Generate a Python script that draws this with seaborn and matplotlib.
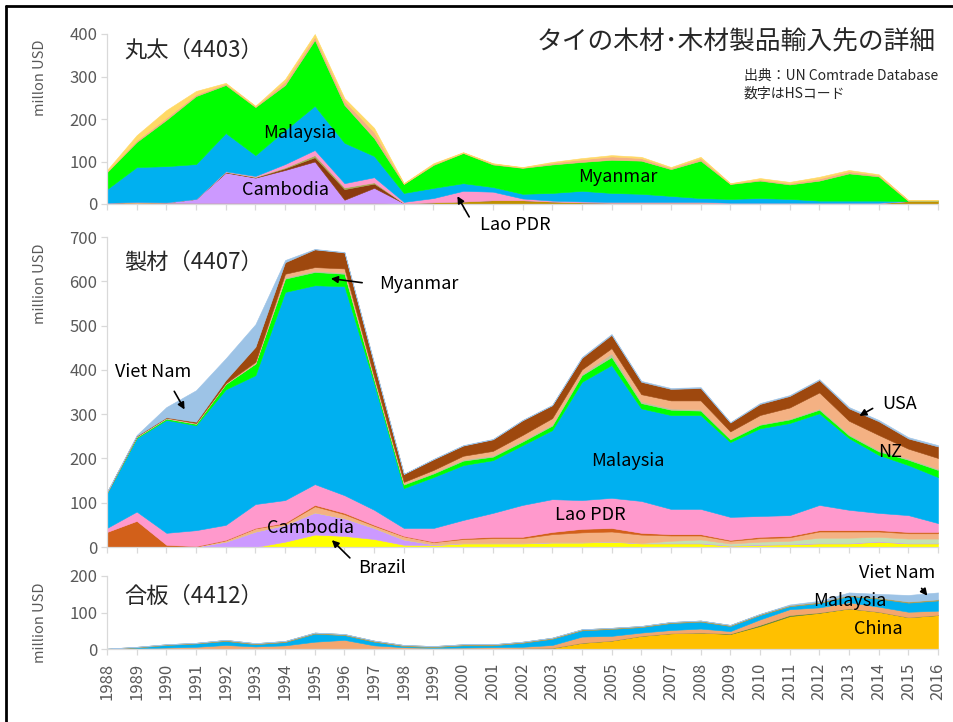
import matplotlib
matplotlib.use('Agg')
import matplotlib.pyplot as plt
import seaborn as sns
import numpy as np
import pandas as pd
from matplotlib.lines import Line2D

sns.set_theme(style='white')
plt.rcParams['font.family'] = ['Noto Sans CJK JP', 'DejaVu Sans']

years = list(range(1988, 2017))

# ---- 丸太 (4403), million USD, stacked bottom -> top
r_other = [3, 4, 3, 2, 2, 2, 2, 2, 2, 2, 1, 1, 1, 1, 1, 1, 1, 1, 1, 1, 1, 1, 1, 1, 1, 1, 1, 0, 0]
r_gold = [0, 0, 0, 0, 0, 0, 0, 0, 0, 0, 0, 3, 5, 8, 8, 5, 3, 2, 2, 2, 2, 1, 1, 1, 1, 1, 1, 7, 7]
r_cambodia = [0, 1, 1, 10, 72, 60, 78, 98, 8, 36, 1] + [0] * 18
r_brown = [0, 0, 0, 0, 1, 1, 4, 10, 25, 10] + [0] * 19
r_olive = [0, 0, 0, 0, 1, 1, 2, 5, 4, 3] + [0] * 19
r_lao = [0, 0, 0, 0, 1, 2, 8, 12, 10, 12, 3, 10, 25, 20, 4, 2, 2, 2, 2, 2, 2, 1, 1, 1, 1, 1, 1, 0, 0]
r_malaysia = [32, 82, 85, 82, 90, 49, 80, 104, 95, 50, 21, 24, 18, 11, 11, 18, 25, 21, 19, 14, 9, 9, 11, 9, 5, 5, 5, 0, 0]
r_myanmar = [40, 59, 109, 160, 113, 113, 106, 155, 89, 42, 21, 54, 71, 53, 61, 67, 68, 78, 78, 63, 88, 35, 41, 34, 47, 64, 57, 0, 0]
r_tan = [2, 4, 5, 4, 3, 2, 8, 8, 10, 14, 1, 2, 1, 2, 1, 4, 6, 8, 6, 3, 6, 1, 3, 3, 5, 5, 3, 2, 2]
r_yellow = [3, 12, 18, 8, 2, 1, 6, 6, 6, 10, 1, 2, 1, 1, 1, 2, 3, 3, 3, 2, 3, 1, 3, 3, 4, 3, 2, 0, 0]

# ---- 製材 (4407)
s_brazil = [0, 0, 0, 0, 0, 0, 12, 28, 25, 18, 5, 4, 8, 8, 8, 10, 10, 12, 8, 8, 8, 3, 5, 6, 8, 8, 12, 8, 8]
s_cambodia = [0, 0, 0, 1, 12, 35, 38, 50, 40, 25, 12, 2, 1, 1, 1, 1, 1, 1, 1, 1, 1, 1, 1, 1, 1, 1, 1, 1, 1]
s_lgreen = [0] * 19 + [5, 8, 4, 6, 7, 12, 12, 10, 10, 10]
s_lorange = [0, 0, 1, 0, 3, 7, 3, 14, 9, 5, 7, 5, 9, 11, 11, 18, 22, 22, 19, 12, 9, 6, 8, 8, 14, 14, 12, 12, 12]
s_orange = [34, 59, 4, 1, 1, 1, 2, 3, 3, 2, 1, 1, 2, 3, 3, 5, 8, 8, 4, 3, 3, 2, 3, 3, 3, 3, 3, 3, 3]
s_lao = [9, 21, 27, 36, 34, 54, 51, 47, 40, 34, 18, 31, 41, 54, 72, 74, 65, 68, 72, 57, 57, 52, 47, 47, 57, 46, 39, 38, 20]
s_malaysia = [79, 166, 255, 237, 306, 291, 470, 449, 472, 286, 90, 115, 124, 119, 135, 156, 267, 300, 209, 212, 212, 169, 198, 208, 207, 162, 131, 113, 104]
s_myanmar = [1, 2, 3, 3, 12, 26, 30, 30, 28, 8, 8, 8, 10, 8, 8, 10, 15, 18, 12, 12, 10, 6, 8, 8, 8, 6, 8, 12, 16]
s_grey = [0, 1, 1, 1, 1, 1, 3, 3, 3, 2, 2, 2, 3, 3, 3, 3, 3, 8, 4, 3, 3, 2, 2, 2, 3, 3, 3, 3, 3]
s_nz = [0, 1, 1, 1, 1, 3, 8, 8, 9, 5, 4, 6, 8, 10, 12, 14, 10, 12, 16, 18, 20, 16, 20, 25, 36, 30, 34, 22, 24]
s_usa = [1, 1, 1, 3, 7, 34, 26, 40, 36, 28, 18, 24, 23, 26, 33, 29, 26, 30, 28, 26, 28, 20, 25, 26, 28, 28, 31, 23, 26]
s_vietnam = [0, 2, 23, 71, 49, 51, 5, 1, 1, 2, 0, 1, 1, 1, 1, 1, 2, 2, 2, 2, 2, 1, 2, 2, 2, 3, 3, 3, 3]

# ---- 合板 (4412)
p_china = [0] * 13 + [1, 2, 3, 17, 23, 36, 43, 45, 41, 63, 90, 99, 111, 102, 87, 93]
p_dkgreen = [0] * 21 + [1, 3, 3, 1, 0, 0, 0, 0]
p_orange = [0.5, 2, 4, 6, 11, 7, 10, 20, 25, 10, 5, 3, 4, 4, 4, 8, 17, 13, 9, 9, 11, 7, 15, 16, 14, 17, 14, 15, 12]
p_malaysia = [0, 2, 7, 9, 11, 6, 9, 22, 13, 10, 3, 2, 6, 5, 11, 17, 17, 19, 15, 19, 19, 14, 12, 8, 12, 17, 22, 25, 28]
p_olive = [0.5, 2, 2, 2] + [3] * 25
p_vietnam = [0] * 23 + [2, 3, 7, 10, 18, 19]

logs = pd.DataFrame({'other': r_other, 'gold': r_gold, 'Cambodia': r_cambodia, 'brown': r_brown,
                     'olive': r_olive, 'Lao PDR': r_lao, 'Malaysia': r_malaysia, 'Myanmar': r_myanmar,
                     'tan': r_tan, 'yellow': r_yellow}, index=years)
logs_colors = ['#F4B183', '#BF9000', '#CC99FF', '#8B3A0E', '#A9A957', '#FF99CC', '#00B0F0', '#00FF00',
               '#F4B183', '#FFD966']

sawn = pd.DataFrame({'Brazil': s_brazil, 'Cambodia': s_cambodia, 'lgreen': s_lgreen, 'lorange': s_lorange,
                     'orange': s_orange, 'Lao PDR': s_lao, 'Malaysia': s_malaysia, 'Myanmar': s_myanmar,
                     'grey': s_grey, 'NZ': s_nz, 'USA': s_usa, 'Viet Nam': s_vietnam}, index=years)
sawn_colors = ['#FFFF00', '#CC99FF', '#C5E0B4', '#F4B183', '#D2601A', '#FF99CC', '#00B0F0', '#00FF00',
               '#BFBFA0', '#F4B183', '#9E480E', '#9DC3E6']

ply = pd.DataFrame({'China': p_china, 'dkgreen': p_dkgreen, 'orange': p_orange, 'Malaysia': p_malaysia,
                    'olive': p_olive, 'Viet Nam': p_vietnam}, index=years)
ply_colors = ['#FFC000', '#548235', '#F4A66E', '#00B0F0', '#B59A4A', '#9DC3E6']

W, H = 954, 722
fig = plt.figure(figsize=(W / 100, H / 100), dpi=100)


def px_axes(left, top, right, bottom):
    return fig.add_axes([left / W, 1 - bottom / H, (right - left) / W, (bottom - top) / H])


def draw_panel(ax, df, colors, ymax, step, ylabel, label_y, xlabels=False):
    polys = ax.stackplot(df.index, df.T.values, colors=colors, lw=0.4)
    for p, c in zip(polys, colors):
        p.set_edgecolor(c)
    ax.set_xlim(1988, 2016)
    ax.set_ylim(0, ymax)
    ax.set_yticks(range(0, ymax + 1, step))
    ax.set_xticks(years)
    sns.despine(ax=ax)
    for s in ['left', 'bottom']:
        ax.spines[s].set_color('#D9D9D9')
        ax.spines[s].set_linewidth(0.9)
    ax.tick_params(axis='both', direction='out', length=4, width=0.9, color='#D9D9D9',
                   labelcolor='#595959', labelsize=12, left=True, bottom=True, pad=3)
    if xlabels:
        ax.set_xticklabels([str(y) for y in years], rotation=90)
        ax.tick_params(axis='x', pad=6)
    else:
        ax.set_xticklabels([])
    ax.set_ylabel(ylabel, fontsize=10.5, color='#595959')
    ax.yaxis.set_label_coords(-0.072, label_y)


ax1 = px_axes(107, 34, 938, 204)
ax2 = px_axes(107, 237, 938, 547)
ax3 = px_axes(107, 576, 938, 649)

draw_panel(ax1, logs, logs_colors, 400, 100, 'millon USD', 0.74)
draw_panel(ax2, sawn, sawn_colors, 700, 100, 'million USD', 0.85)
draw_panel(ax3, ply, ply_colors, 200, 100, 'million USD', 0.36, xlabels=True)


def ftext(x, y, s, **kw):
    fig.text(x / W, 1 - y / H, s, **kw)


ftext(124, 50, '丸太（4403）', fontsize=16, va='center', ha='left')
ftext(124, 262, '製材（4407）', fontsize=16, va='center', ha='left')
ftext(124, 596, '合板（4412）', fontsize=16, va='center', ha='left')
ftext(936, 42, 'タイの木材･木材製品輸入先の詳細', fontsize=18.5, va='center', ha='right')
ftext(744, 76, '出典：UN Comtrade Database', fontsize=10, va='center', ha='left')
ftext(744, 94, '数字はHSコード', fontsize=10, va='center', ha='left')

lab = dict(fontsize=13, ha='center', va='center', color='black')
arr = dict(arrowstyle='-|>', color='black', lw=1.2, mutation_scale=10)

# logs
ax1.text(1994.5, 167, 'Malaysia', **lab)
ax1.text(1994.0, 33, 'Cambodia', **lab)
ax1.text(2005.2, 64, 'Myanmar', **lab)
ax1.text(2001.75, -49, 'Lao PDR', clip_on=False, **lab)
ax1.annotate('', xy=(1999.76, 24), xytext=(2000.25, -36), arrowprops=arr, annotation_clip=False)

# sawn wood
ax2.text(1998.5, 594, 'Myanmar', **lab)
ax2.annotate('', xy=(1995.45, 607), xytext=(1996.69, 596), arrowprops=arr)
ax2.text(1989.55, 395, 'Viet Nam', **lab)
ax2.annotate('', xy=(1990.66, 305), xytext=(1990.22, 357), arrowprops=arr)
ax2.text(2005.55, 194, 'Malaysia', **lab)
ax2.text(2004.27, 72, 'Lao PDR', **lab)
ax2.text(1994.84, 43, 'Cambodia', **lab)
ax2.text(1997.27, -47, 'Brazil', clip_on=False, **lab)
ax2.annotate('', xy=(1995.51, 20), xytext=(1996.25, -29), arrowprops=arr, annotation_clip=False)
ax2.text(2014.72, 323, 'USA', **lab)
ax2.annotate('', xy=(2013.27, 293), xytext=(2013.88, 316), arrowprops=arr)
ax2.text(2014.38, 214, 'NZ', **lab)

# plywood
ax3.text(2014.62, 208, 'Viet Nam', clip_on=False, **lab)
ax3.annotate('', xy=(2015.7, 140), xytext=(2015.39, 172), arrowprops=arr, annotation_clip=False)
ax3.text(2013.03, 131, 'Malaysia', **lab)
ax3.text(2013.98, 55, 'China', **lab)

# frame (left and top edges visible)
fig.add_artist(Line2D([6 / W, 6 / W], [0, 1 - 6 / H], color='black', lw=2, transform=fig.transFigure))
fig.add_artist(Line2D([6 / W, 1], [1 - 6 / H, 1 - 6 / H], color='black', lw=2, transform=fig.transFigure))

fig.savefig('out.png', dpi=100)
